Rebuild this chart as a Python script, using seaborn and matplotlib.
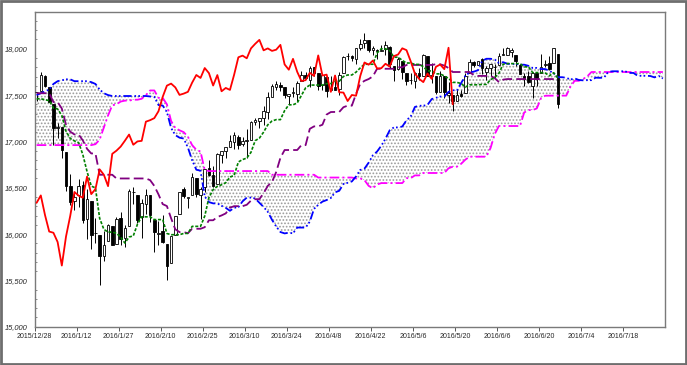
import numpy as np
import matplotlib
matplotlib.use("Agg")
import matplotlib.pyplot as plt
import seaborn as sns
from matplotlib.patches import Rectangle

# ---------------- data ----------------
tick_labels = ["2015/12/28", "2016/1/12", "2016/1/27", "2016/2/10", "2016/2/25",
               "2016/3/10", "2016/3/24", "2016/4/8", "2016/4/22", "2016/5/6",
               "2016/5/20", "2016/6/6", "2016/6/20", "2016/7/4", "2016/7/18"]

open_ = [17535, 17547, 17711, 17590, 17405, 17147, 17154, 16889, 16520, 16358,
         16419, 16526, 16159, 16355, 16009, 15989, 15768, 15921, 16086, 15893,
         16168, 15960, 16090, 16454, 16420, 16186, 16329, 16417, 16147, 16005,
         16035, 15897, 15691, 15994, 16217, 16485, 16392, 16417, 16610, 16418,
         16504, 16712, 16634, 16545, 16851, 16896, 16945, 16991, 17050, 16969,
         17006, 17014, 17207, 17217, 17249, 17321, 17481, 17589, 17606, 17582,
         17485, 17526, 17512, 17652, 17717, 17661, 17799, 17736, 17606, 17697,
         17555, 17586, 17571, 17741, 17919, 17925, 17890, 18012, 18061, 18095,
         17985, 17990, 17977, 17996, 18023, 17813, 17783, 17869, 17735, 17664,
         17650, 17740, 17711, 17920, 17710, 17711, 17531, 17701, 17501, 17500,
         17437, 17507, 17525, 17735, 17859, 17826, 17891, 17754, 17789, 17799,
         17825, 17936, 17931, 17969, 17938, 17830, 17710, 17703, 17602, 17733,
         17736, 17827, 17844, 17844, 17946]
high = [17536, 17750, 17714, 17590, 17405, 17195, 17154, 16889, 16651, 16455,
        16592, 16568, 16482, 16355, 16172, 15989, 16038, 16109, 16086, 16185,
        16235, 16102, 16486, 16510, 16420, 16381, 16484, 16417, 16147, 16136,
        16201, 15897, 15975, 16196, 16455, 16511, 16392, 16664, 16610, 16507,
        16705, 16795, 16735, 16870, 16900, 16944, 17067, 17099, 17072, 17048,
        17130, 17220, 17250, 17251, 17379, 17538, 17620, 17650, 17642, 17585,
        17516, 17583, 17650, 17755, 17747, 17815, 17799, 17736, 17716, 17697,
        17701, 17715, 17744, 17918, 17951, 17935, 18013, 18103, 18167, 18099,
        18025, 17995, 18043, 18084, 18035, 17813, 17915, 17869, 17736, 17736,
        17744, 17796, 17944, 17920, 17843, 17711, 17755, 17701, 17636, 17500,
        17571, 17550, 17733, 17891, 17867, 17873, 17899, 17809, 17838, 17833,
        17949, 18003, 18016, 18005, 17938, 17833, 17733, 17762, 17754, 17733,
        17946, 17877, 17920, 18011, 17946]
low = [17437, 17547, 17588, 17421, 16958, 17038, 16817, 16463, 16314, 16260,
       16291, 16124, 15945, 15842, 15900, 15451, 15704, 15921, 15880, 15893,
       15878, 15863, 16090, 16325, 16123, 15961, 16217, 16129, 15803, 15881,
       15899, 15503, 15691, 15994, 16217, 16387, 16278, 16417, 16403, 16165,
       16458, 16623, 16510, 16545, 16766, 16820, 16945, 16922, 16921, 16947,
       16821, 17014, 17175, 17141, 17180, 17238, 17481, 17551, 17542, 17473,
       17402, 17484, 17434, 17652, 17670, 17582, 17702, 17550, 17558, 17484,
       17553, 17555, 17500, 17741, 17878, 17864, 17833, 17984, 18012, 17963,
       17935, 17885, 17972, 17929, 17796, 17651, 17773, 17670, 17609, 17615,
       17579, 17667, 17711, 17711, 17630, 17514, 17531, 17469, 17418, 17331,
       17437, 17480, 17525, 17735, 17803, 17824, 17724, 17664, 17703, 17689,
       17822, 17936, 17931, 17915, 17812, 17731, 17595, 17629, 17471, 17602,
       17736, 17799, 17770, 17844, 17357]
close = [17528, 17720, 17603, 17425, 17149, 17158, 16906, 16514, 16347, 16399,
         16516, 16152, 16380, 15988, 16016, 15766, 15882, 16094, 15885, 16167,
         15944, 16069, 16466, 16449, 16153, 16337, 16417, 16205, 16027, 16014,
         15914, 15660, 15974, 16196, 16454, 16414, 16392, 16620, 16431, 16485,
         16698, 16640, 16517, 16866, 16900, 16944, 17007, 17074, 16964, 17000,
         17006, 17213, 17229, 17251, 17326, 17481, 17602, 17624, 17583, 17502,
         17516, 17535, 17634, 17717, 17685, 17792, 17737, 17603, 17716, 17541,
         17577, 17556, 17721, 17908, 17926, 17897, 18004, 18053, 18096, 17983,
         18004, 17977, 17990, 18042, 17831, 17774, 17891, 17751, 17652, 17661,
         17741, 17706, 17928, 17711, 17721, 17535, 17711, 17530, 17527, 17436,
         17501, 17493, 17706, 17852, 17828, 17873, 17787, 17790, 17838, 17807,
         17920, 17938, 18005, 17985, 17865, 17732, 17675, 17640, 17733, 17675,
         17805, 17830, 17780, 18011, 17400]

# conversion line (green)
tenkan = [17460, 17460, 17450, 17440, 17360, 17350, 17280, 17110,
          17032, 17005, 16987, 16857, 16675, 16518, 16498, 16170, 16051, 16021,
          16021, 16009, 15966, 15903, 15968, 15980, 16107, 16186, 16186, 16186,
          16156, 16156, 16156, 16006, 15993, 15993, 15993, 16007, 16007, 16083,
          16083, 16083, 16194, 16394, 16480, 16515, 16532, 16554, 16616, 16632,
          16778, 16804, 16820, 16882, 17008, 17035, 17100, 17179, 17220, 17235,
          17235, 17332, 17395, 17395, 17415, 17496, 17578, 17608, 17608, 17608,
          17608, 17624, 17624, 17649, 17649, 17701, 17717, 17717, 17748, 17793,
          17833, 17833, 17833, 17954, 18000, 18000, 17981, 17909, 17909, 17875,
          17846, 17846, 17831, 17831, 17807, 17761, 17761, 17729, 17729, 17706,
          17681, 17637, 17637, 17625, 17587, 17611, 17611, 17611, 17615, 17615,
          17668, 17689, 17737, 17833, 17840, 17840, 17840, 17840, 17805, 17805,
          17743, 17743, 17743, 17738, 17708, 17741, 17684]
# base line (purple)
kijun = [17520, 17520, 17520, 17520, 17425, 17425, 17355, 17180, 17105, 17075,
         17075, 17010, 16920, 16870, 16870, 16640, 16640, 16640, 16640, 16600,
         16600, 16600, 16600, 16600, 16600,
         16600, 16600, 16582, 16520, 16428, 16323, 16302, 16170, 16051, 16021,
         16021, 16009, 16057, 16057, 16057, 16074, 16149, 16149, 16184, 16201,
         16223, 16285, 16301, 16301, 16301, 16316, 16361, 16376, 16377, 16441,
         16520, 16561, 16670, 16822, 16907, 16907, 16907, 16907, 16960, 16960,
         17136, 17162, 17162, 17180, 17290, 17317, 17318, 17318, 17369, 17386,
         17386, 17513, 17622, 17654, 17673, 17702, 17784, 17784, 17784, 17784,
         17784, 17800, 17800, 17825, 17825, 17825, 17825, 17825, 17825, 17825,
         17833, 17833, 17818, 17792, 17749, 17749, 17749, 17749, 17749, 17715,
         17707, 17707, 17707, 17707, 17683, 17640, 17667, 17673, 17673, 17673,
         17673, 17673, 17673, 17673, 17673, 17673, 17673, 17673, 17673, 17673]
# leading span A (blue), 150 sessions incl. 25 ahead
senkou_a = [17500, 17520, 17540, 17560, 17620, 17650, 17660, 17670, 17670, 17650,
            17650, 17650, 17650, 17640, 17620, 17560, 17520, 17500, 17490, 17490,
            17490, 17490, 17490, 17490, 17490,
            17490, 17490, 17485, 17480, 17392, 17387, 17317, 17145, 17068, 17040,
            17031, 16933, 16797, 16694, 16684, 16405, 16345, 16331, 16331, 16305,
            16283, 16251, 16284, 16290, 16353, 16393, 16393, 16384, 16338, 16292,
            16240, 16154, 16082, 16022, 16007, 16014, 16008, 16070, 16070, 16070,
            16134, 16272, 16315, 16350, 16367, 16389, 16450, 16467, 16540, 16553,
            16568, 16622, 16692, 16706, 16771, 16850, 16891, 16953, 17029, 17120,
            17151, 17151, 17161, 17228, 17269, 17372, 17385, 17385, 17394, 17457,
            17471, 17484, 17484, 17535, 17552, 17552, 17631, 17708, 17744, 17753,
            17768, 17869, 17892, 17892, 17883, 17847, 17855, 17838, 17836, 17836,
            17828, 17828, 17816, 17793, 17793, 17781, 17781, 17762, 17737, 17693,
            17693, 17687, 17668, 17680, 17663, 17659, 17661, 17661, 17688, 17686,
            17689, 17750, 17757, 17757, 17757, 17757, 17739, 17739, 17708, 17708,
            17708, 17706, 17691, 17707, 17679]
# leading span B (magenta)
senkou_b = [16960, 16960, 16960, 16960, 16960, 16960, 16960, 16960, 16960, 16960,
            16960, 16960, 16960, 16960, 16970, 17020, 17150, 17280, 17390, 17400,
            17430, 17440, 17440, 17450, 17450, 17460, 17500, 17550, 17550, 17470,
            17470, 17400, 17220, 17145, 17120, 17100, 17050, 16960, 16910, 16890,
            16690, 16680, 16680, 16680, 16680, 16680, 16680, 16680, 16680, 16680,
            16680, 16680, 16680, 16680, 16680, 16680, 16640, 16640, 16640, 16640,
            16640, 16640, 16640, 16640, 16640, 16640, 16640, 16610, 16610, 16610,
            16610, 16610, 16610, 16610, 16610, 16610,
            16600, 16600, 16582, 16520, 16494, 16535, 16550, 16550, 16550, 16550,
            16550, 16550, 16603, 16603, 16633, 16633, 16659, 16659, 16659, 16659,
            16659, 16659, 16710, 16727, 16727, 16758, 16803, 16835, 16835, 16835,
            16835, 16835, 16929, 17080, 17166, 17166, 17166, 17166, 17166, 17166,
            17312, 17338, 17338, 17356, 17466, 17493, 17494, 17494, 17494, 17494,
            17494, 17590, 17654, 17654, 17673, 17702, 17749, 17749, 17749, 17749,
            17749, 17749, 17749, 17749, 17749, 17749, 17749, 17749, 17749, 17749,
            17749, 17749, 17749, 17749]
# lagging span (red): closes drawn 25 sessions back
chikou = close[25:]

# ---------------- style ----------------
sns.set_style("white")
plt.rcParams["font.family"] = ["Liberation Sans", "DejaVu Sans"]
plt.rcParams["lines.scale_dashes"] = False
plt.rcParams["hatch.linewidth"] = 0.8

fig = plt.figure(figsize=(6.87, 3.65), dpi=100)
ax = fig.add_axes([34.5 / 687, 38.3 / 365, (665 - 34.5) / 687, (353.3 - 38.3) / 365])

n = len(close)
xc = np.arange(n) + 0.5
xs = np.arange(len(senkou_a)) + 0.5
xl = np.arange(len(chikou)) + 0.5

# cloud
ax.fill_between(xs, senkou_a, senkou_b, facecolor="none", edgecolor="#9a9a9a",
                hatch=".....", linewidth=0, zorder=1)

# candles
o = np.array(open_, float); c = np.array(close, float)
h = np.array(high, float); l = np.array(low, float)
up = c >= o
ax.vlines(xc, l, h, color="black", linewidth=0.7, zorder=2)
body = np.maximum(np.abs(c - o), 4)
ax.bar(xc[up], body[up], bottom=np.minimum(o, c)[up], width=0.62, color="white",
       edgecolor="black", linewidth=0.6, zorder=3)
ax.bar(xc[~up], body[~up], bottom=np.minimum(o, c)[~up], width=0.62, color="black",
       edgecolor="black", linewidth=0.6, zorder=3)

# ichimoku lines
sns.lineplot(x=xs, y=senkou_b, ax=ax, color="#FF00FF", linewidth=1.3,
             linestyle=(0, (7, 2.2, 1.5, 2.2)), zorder=4)
sns.lineplot(x=xs, y=senkou_a, ax=ax, color="#0000FF", linewidth=1.3,
             linestyle=(0, (6, 2, 1.2, 1.6, 1.2, 2)), zorder=4)
sns.lineplot(x=xc, y=kijun, ax=ax, color="#800080", linewidth=1.3,
             linestyle=(0, (7, 3)), zorder=5)
sns.lineplot(x=xc, y=tenkan, ax=ax, color="#008000", linewidth=1.2,
             linestyle=(0, (2.2, 1.2)), zorder=5)
sns.lineplot(x=xl, y=chikou, ax=ax, color="#FF0000", linewidth=1.3, zorder=6)

# axes
ax.set_xlim(0, 150)
ax.set_ylim(15000, 18400)
ax.set_xticks(np.arange(0, 10 * len(tick_labels), 10))
ax.set_xticklabels(tick_labels)
yt = np.arange(15000, 18001, 500)
ax.set_yticks(yt)
ax.set_yticklabels([f"{v:,}" for v in yt])
ax.set_yticks(np.arange(15000, 18400, 100), minor=True)
ax.tick_params(axis="x", labelsize=5, length=3, width=0.7, color="#555555",
               direction="out", pad=1.5, bottom=True)
ax.tick_params(axis="y", which="major", labelsize=5.4, length=0, pad=5, left=True)
ax.tick_params(axis="y", which="minor", length=1.5, width=0.6, color="#777777",
               direction="in", left=True)
for lab in ax.get_yticklabels():
    lab.set_style("italic")
for s in ax.spines.values():
    s.set_color("#7a7a7a")
    s.set_linewidth(1.0)
ax.set_xlabel("")
ax.set_ylabel("")

fig.patches.append(Rectangle((0.001, 0.002), 0.997, 0.995, transform=fig.transFigure,
                             fill=False, edgecolor="#6e6e6e", linewidth=2))

fig.savefig("out.png", dpi=100)
